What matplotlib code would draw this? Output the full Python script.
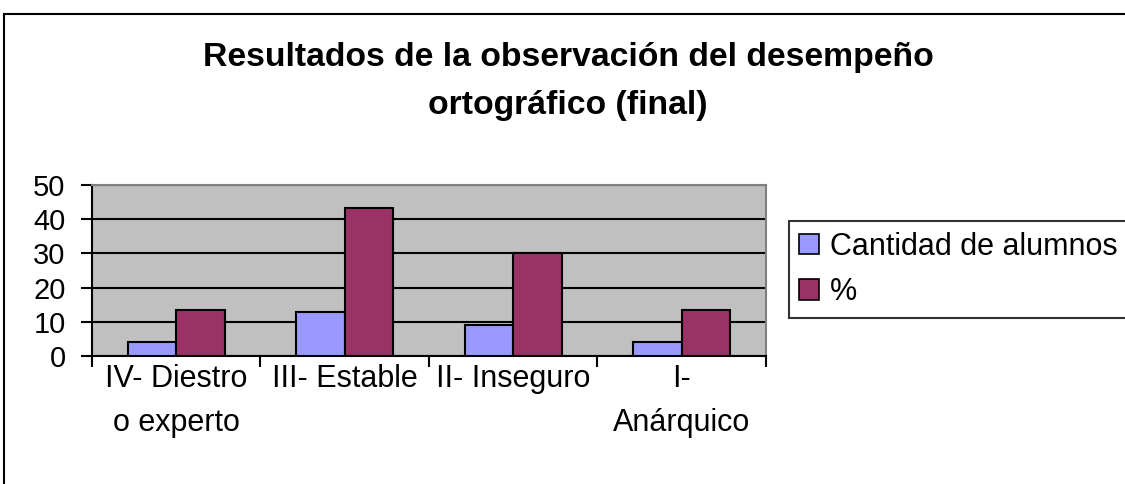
import matplotlib.pyplot as plt
import matplotlib.patches as mpatches
import numpy as np

plt.rcParams['font.family'] = ['Liberation Sans', 'DejaVu Sans']

# Datos del grafico
categorias = ['IV- Diestro\no experto', 'III- Estable', 'II- Inseguro', 'I-\nAnárquico']
cantidad_alumnos = [4, 13, 9, 4]
porcentaje = [13.3, 43.3, 30, 13.3]
series = ['Cantidad de alumnos', '%']
colores = ['#9999FF', '#993366']

fig = plt.figure(figsize=(11.25, 4.84), dpi=100)
ax = fig.add_axes([0.0818, 0.2645, 0.599, 0.3533])
ax.set_facecolor('#C0C0C0')

x = np.arange(len(categorias))
ancho = 0.288
ax.bar(x - ancho / 2, cantidad_alumnos, ancho, color=colores[0],
       edgecolor='black', linewidth=1.5, zorder=3)
ax.bar(x + ancho / 2, porcentaje, ancho, color=colores[1],
       edgecolor='black', linewidth=1.5, zorder=3)

ax.set_xlim(-0.5, len(categorias) - 0.5)
ax.set_ylim(0, 50)
ax.set_yticks(range(0, 51, 10))
ax.yaxis.grid(True, color='black', linewidth=1.5, zorder=1)
ax.tick_params(axis='y', labelsize=21, length=8, width=1.5, pad=11)

# ticks de categoria en los limites, etiquetas en el centro
ax.set_xticks(np.arange(-0.5, len(categorias), 1.0))
ax.set_xticklabels([])
ax.set_xticks(x, minor=True)
ax.set_xticklabels(categorias, minor=True, fontsize=22, linespacing=1.6)
ax.tick_params(axis='x', which='major', length=8, width=1.5)
ax.tick_params(axis='x', which='minor', length=0, pad=6)

for lado in ['left', 'bottom']:
    ax.spines[lado].set_color('black')
    ax.spines[lado].set_linewidth(1.5)
for lado in ['top', 'right']:
    ax.spines[lado].set_color('#808080')
    ax.spines[lado].set_linewidth(1.5)

fig.text(0.505, 0.831, 'Resultados de la observación del desempeño\nortográfico (final)',
         ha='center', va='center', fontsize=24.3, fontweight='bold', linespacing=1.7)

# leyenda
handles = [mpatches.Patch(facecolor=c, edgecolor='black', linewidth=1.2) for c in colores]
leg = fig.legend(handles, series, loc='upper left', bbox_to_anchor=(0.701, 0.543),
                 fontsize=22, frameon=True, fancybox=False, edgecolor='black',
                 handlelength=0.65, handleheight=0.65, handletextpad=0.35,
                 labelspacing=0.5, borderpad=0.35, borderaxespad=0)
leg.get_frame().set_linewidth(1.5)

# marco exterior del grafico
marco = mpatches.Rectangle((4 / 1125, -0.1), 1.1, 1.1 - 14 / 484,
                           transform=fig.transFigure, fill=False,
                           edgecolor='black', linewidth=1.5)
fig.patches.append(marco)

fig.savefig('out.png', dpi=100)
